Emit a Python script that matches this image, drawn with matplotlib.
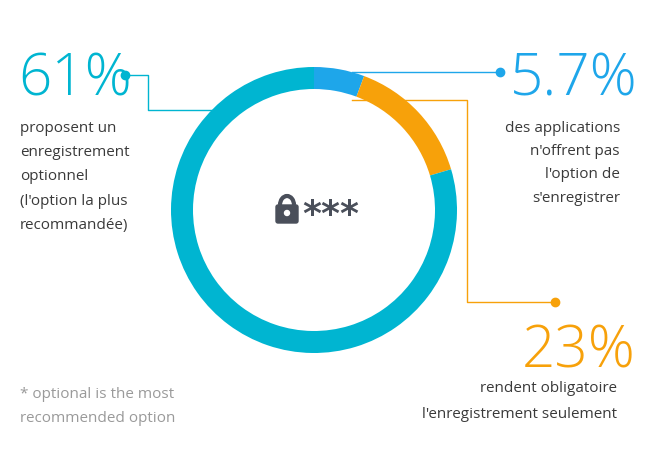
import matplotlib
matplotlib.use("Agg")
import matplotlib.pyplot as plt
from matplotlib.patches import FancyBboxPatch, Arc, Circle

labels = ["none", "mandatory", "optional/other"]
# arc shares as drawn in the reference picture
values = [5.7, 14.7, 79.6]
colors = ["#1ea6ea", "#f7a10a", "#00b5d1"]
big_labels = ["5.7%", "23%", "61%"]

fig = plt.figure(figsize=(6.49, 4.58), dpi=100)
ax = fig.add_axes([0, 0, 1, 1])
ax.set_xlim(0, 649); ax.set_ylim(458, 0); ax.set_aspect("equal"); ax.axis("off")

cx, cy, R = 314, 210, 143
ax.pie(values, colors=colors, startangle=-90, counterclock=True, center=(cx, cy),
       radius=R, wedgeprops=dict(width=22, linewidth=0), frame=True)
ax.set_xlim(0, 649); ax.set_ylim(458, 0); ax.axis("off")

lock = "#4a4f5a"
ax.add_patch(FancyBboxPatch((276, 205), 22, 18, boxstyle="round,pad=0,rounding_size=2", color=lock))
ax.add_patch(Arc((287, 205), 14, 18, theta1=180, theta2=360, color=lock, lw=3))
ax.add_patch(Circle((287, 213), 2.5, color="white"))
ax.text(302, 225, "***", fontsize=26, color=lock, fontweight="bold", va="baseline", ha="left")

font = "Open Sans"
dark = "#3a3a3a"
ax.plot([125, 148, 148, 212], [75, 75, 110, 110], color=colors[2], lw=1)
ax.plot(125, 75, "o", color=colors[2], ms=6)
ax.plot([352, 500], [72, 72], color=colors[0], lw=1)
ax.plot(500, 72, "o", color=colors[0], ms=6)
ax.plot([352, 467, 467, 555], [100, 100, 302, 302], color=colors[1], lw=1)
ax.plot(555, 302, "o", color=colors[1], ms=6)

bkw = dict(fontsize=42, family=font, fontweight="light", va="baseline")
ax.text(18, 96, big_labels[2], color=colors[2], **bkw)
ax.text(510, 96, big_labels[0], color=colors[0], **bkw)
ax.text(522, 368, big_labels[1], color=colors[1], **bkw)

tkw = dict(fontsize=11, family=font, va="center")
for i, s in enumerate(["proposent un", "enregistrement", "optionnel", "(l'option la plus", "recommandée)"]):
    ax.text(20, 128 + 24.5 * i, s, color=dark, **tkw)
for i, s in enumerate(["des applications", "n'offrent pas", "l'option de", "s'enregistrer"]):
    ax.text(620, 128 + 23.5 * i, s, color=dark, ha="right", **tkw)
for i, s in enumerate(["rendent obligatoire", "l'enregistrement seulement"]):
    ax.text(617, 389 + 25 * i, s, color=dark, ha="right", **tkw)
for i, s in enumerate(["* optional is the most", "recommended option"]):
    ax.text(20, 394 + 24 * i, s, color="#9a9a9a", **tkw)

fig.savefig("out.png", dpi=100)
